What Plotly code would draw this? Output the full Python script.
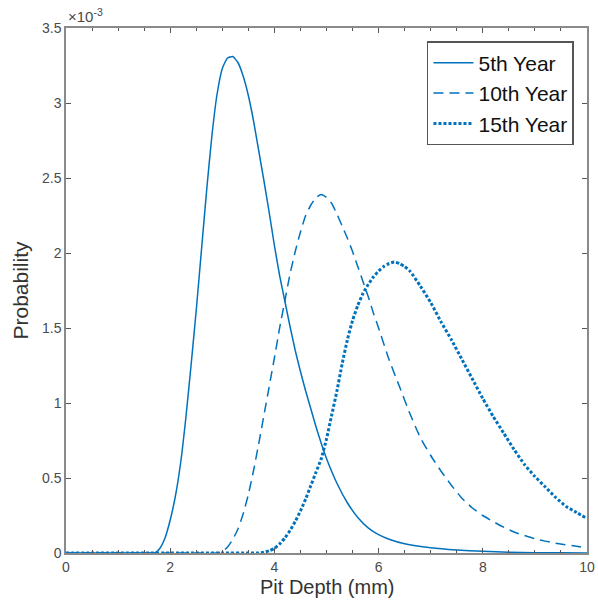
import plotly.graph_objects as go

# Values (probability in units of 1e-3)
x5 = [0, 0.5, 1.0, 1.5, 1.7, 1.8, 1.9, 2.0, 2.1, 2.2, 2.3, 2.4, 2.5, 2.6, 2.7, 2.8, 2.9, 3.0, 3.1, 3.2, 3.3, 3.4,
      3.5, 3.6, 3.7, 3.8, 3.9, 4.0, 4.1, 4.2, 4.3, 4.4, 4.5, 4.6, 4.7, 4.8, 4.9, 5.0, 5.2, 5.4, 5.6, 5.8, 6.0,
      6.2, 6.5, 7.0, 7.5, 8.0, 8.5, 9.0, 9.5, 10.0]
y5 = [0, 0, 0, 0, 0, 0.03, 0.10, 0.22, 0.38, 0.60, 0.90, 1.25, 1.62, 2.02, 2.42, 2.78, 3.06, 3.23, 3.30, 3.31, 3.27, 3.18,
      3.05, 2.88, 2.68, 2.48, 2.27, 2.05, 1.85, 1.68, 1.51, 1.35, 1.21, 1.08, 0.96, 0.84, 0.73, 0.63, 0.465, 0.335, 0.237, 0.168, 0.122,
      0.092, 0.062, 0.035, 0.02, 0.011, 0.005, 0.002, 0.001, 0.0]

x10 = [0, 0.5, 1.0, 1.5, 2.0, 2.5, 2.9, 3.0, 3.1, 3.2, 3.3, 3.4, 3.5, 3.6, 3.7, 3.8, 3.9, 4.0, 4.1, 4.2, 4.3, 4.4,
       4.5, 4.6, 4.7, 4.8, 4.9, 5.0, 5.1, 5.2, 5.3, 5.4, 5.5, 5.6, 5.7, 5.8, 5.9, 6.0, 6.2, 6.4, 6.6, 6.8, 7.0,
       7.2, 7.4, 7.6, 7.8, 8.0, 8.3, 8.6, 9.0, 9.4, 9.8, 10.0]
y10 = [0, 0, 0, 0, 0, 0, 0, 0.01, 0.04, 0.09, 0.16, 0.26, 0.39, 0.55, 0.73, 0.92, 1.11, 1.30, 1.50, 1.68, 1.86, 2.01,
       2.14, 2.25, 2.32, 2.37, 2.39, 2.37, 2.33, 2.26, 2.18, 2.10, 2.01, 1.91, 1.81, 1.71, 1.60, 1.50, 1.29, 1.11, 0.93, 0.77, 0.65,
       0.545, 0.45, 0.365, 0.30, 0.25, 0.19, 0.14, 0.095, 0.065, 0.045, 0.035]

x15 = [0, 0.5, 1.0, 1.5, 2.0, 2.5, 3.0, 3.5, 3.7, 3.8, 3.9, 4.0, 4.1, 4.2, 4.3, 4.4, 4.5, 4.6, 4.7, 4.8, 4.9,
       5.0, 5.1, 5.2, 5.3, 5.4, 5.5, 5.6, 5.7, 5.8, 5.9, 6.0, 6.1, 6.2, 6.3, 6.4, 6.5, 6.6, 6.8, 7.0, 7.2, 7.4,
       7.6, 7.8, 8.0, 8.2, 8.4, 8.6, 8.8, 9.0, 9.2, 9.4, 9.6, 9.8, 10.0]
y15 = [0, 0, 0, 0, 0, 0, 0, 0, 0, 0.005, 0.015, 0.03, 0.06, 0.10, 0.15, 0.21, 0.28, 0.36, 0.45, 0.54, 0.63,
       0.76, 0.92, 1.08, 1.26, 1.42, 1.55, 1.65, 1.73, 1.79, 1.84, 1.88, 1.91, 1.93, 1.94, 1.93, 1.91, 1.88, 1.78, 1.67, 1.54, 1.42,
       1.29, 1.16, 1.03, 0.91, 0.80, 0.69, 0.59, 0.51, 0.44, 0.37, 0.31, 0.27, 0.23]

names = ["5th Year", "10th Year", "15th Year"]
xtick_vals = [0, 2, 4, 6, 8, 10]
ytick_vals = [0, 0.5, 1, 1.5, 2, 2.5, 3, 3.5]
ytick_text = ["0", "0.5", "1", "1.5", "2", "2.5", "3", "3.5"]
x_title = "Pit Depth (mm)"
y_title = "Probability"

FONT = "Liberation Sans, Arial, Helvetica, sans-serif"
blue = "#0072BD"
fig = go.Figure()
fig.add_trace(go.Scatter(x=x5, y=y5, name=names[0], mode="lines",
                         line=dict(color=blue, width=1.5, shape="spline", smoothing=0.5)))
fig.add_trace(go.Scatter(x=x10, y=y10, name=names[1], mode="lines",
                         line=dict(color=blue, width=1.5, dash="10px,6px", shape="spline", smoothing=0.5)))
fig.add_trace(go.Scatter(x=x15, y=y15, name=names[2], mode="lines",
                         line=dict(color=blue, width=3, dash="3px,2px", shape="spline", smoothing=0.5)))

axis_common = dict(showline=True, linecolor="#8a8a8a", linewidth=1.5, mirror="ticks",
                   ticks="inside", tickcolor="#555555", ticklen=5, tickwidth=1,
                   showgrid=False, zeroline=False, automargin=False,
                   tickfont=dict(family=FONT, size=14, color="#4a4a4a"),
                   title_font=dict(family=FONT, size=21, color="#333333"))

fig.update_xaxes(range=[0, 10], tickvals=xtick_vals,
                 minor=dict(dtick=0.5, ticks="inside", ticklen=3, tickcolor="#555555"),
                 **axis_common)
fig.update_yaxes(range=[0, 3.5], tickvals=ytick_vals, ticktext=ytick_text, title_text=y_title,
                 title_standoff=8, **axis_common)

fig.add_annotation(x=0.5, y=0, xref="paper", yref="paper", xanchor="center", yanchor="middle",
                   text=x_title, showarrow=False, yshift=-34,
                   font=dict(family=FONT, size=20, color="#333333"))

fig.add_annotation(x=0, y=1, xref="paper", yref="paper", xanchor="left", yanchor="bottom",
                   text="×10<sup>-3</sup>", showarrow=False, xshift=0, yshift=1,
                   font=dict(family=FONT, size=15, color="#4a4a4a"))

fig.update_layout(
    width=598, height=603,
    margin=dict(l=66, r=11, t=28, b=50, autoexpand=False),
    paper_bgcolor="white", plot_bgcolor="white",
    legend=dict(x=0.975, y=0.975, xanchor="right", yanchor="top",
                bordercolor="#555555", borderwidth=1.5, bgcolor="white",
                font=dict(family=FONT, size=21, color="#111111"),
                tracegroupgap=0, itemwidth=40),
    showlegend=True,
)

fig.write_html("out.html")
